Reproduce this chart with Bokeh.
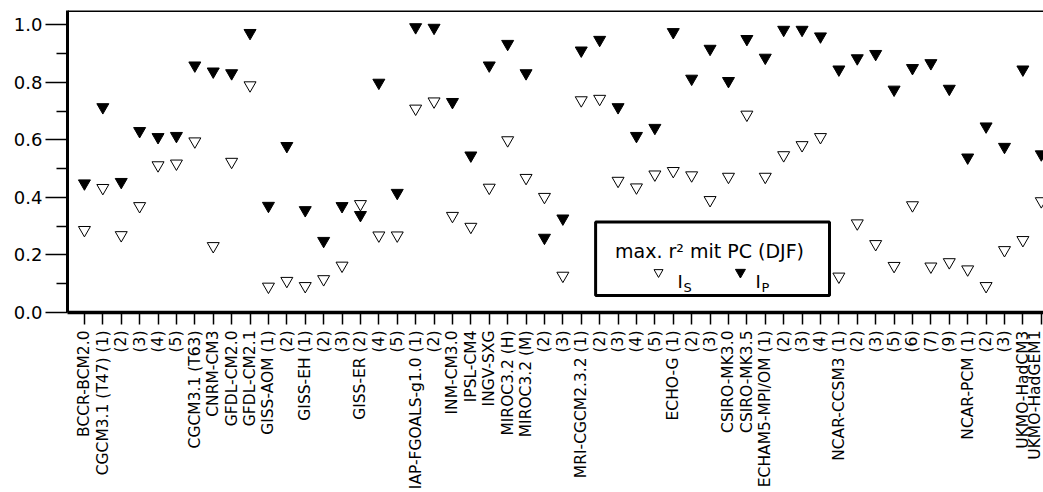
import numpy as np
from bokeh.plotting import figure
from bokeh.models import (FixedTicker, Range1d, Span, BoxAnnotation, Label,
                          ColumnDataSource, PrintfTickFormatter)
from bokeh.embed import file_html
from bokeh.resources import INLINE

# Model runs along the x axis
models = [
    "BCCR-BCM2.0", "CGCM3.1 (T47) (1)", "(2)", "(3)", "(4)", "(5)",
    "CGCM3.1 (T63)", "CNRM-CM3", "GFDL-CM2.0", "GFDL-CM2.1",
    "GISS-AOM (1)", "(2)", "GISS-EH (1)", "(2)", "(3)",
    "GISS-ER (2)", "(4)", "(5)", "IAP-FGOALS-g1.0 (1)", "(2)",
    "INM-CM3.0", "IPSL-CM4", "INGV-SXG", "MIROC3.2 (H)", "MIROC3.2 (M)",
    "(2)", "(3)", "MRI-CGCM2.3.2 (1)", "(2)", "(3)", "(4)", "(5)",
    "ECHO-G (1)", "(2)", "(3)", "CSIRO-MK3.0", "CSIRO-MK3.5",
    "ECHAM5-MPI/OM (1)", "(2)", "(3)", "(4)",
    "NCAR-CCSM3 (1)", "(2)", "(3)", "(5)", "(6)", "(7)", "(9)",
    "NCAR-PCM (1)", "(2)", "(3)", "UKMO-HadCM3", "UKMO-HadGEM1",
]

# max. r^2 with PC (DJF), index I_S
i_s = [
    0.287, 0.433, 0.269, 0.370, 0.512, 0.518, 0.595, 0.231, 0.524, 0.790,
    0.090, 0.110, 0.092, 0.116, 0.163, 0.377, 0.268, 0.268, 0.709, 0.734,
    0.336, 0.298, 0.434, 0.599, 0.468, 0.402, 0.128, 0.738, 0.743, 0.458,
    0.435, 0.480, 0.492, 0.477, 0.391, 0.472, 0.688, 0.472, 0.547, 0.582,
    0.610, 0.125, 0.310, 0.238, 0.162, 0.373, 0.160, 0.175, 0.150, 0.092,
    0.217, 0.252, 0.387,
]

# max. r^2 with PC (DJF), index I_P
i_p = [
    0.449, 0.714, 0.454, 0.631, 0.610, 0.614, 0.859, 0.838, 0.832, 0.972,
    0.371, 0.579, 0.356, 0.249, 0.370, 0.339, 0.799, 0.416, 0.992, 0.990,
    0.732, 0.546, 0.859, 0.934, 0.832, 0.260, 0.327, 0.911, 0.948, 0.714,
    0.614, 0.642, 0.975, 0.813, 0.917, 0.805, 0.951, 0.886, 0.983, 0.983,
    0.960, 0.845, 0.884, 0.899, 0.775, 0.850, 0.867, 0.778, 0.539, 0.647,
    0.576, 0.845, 0.550,
]

y_ticks = [0.0, 0.2, 0.4, 0.6, 0.8, 1.0]
y_minor_ticks = [0.1, 0.3, 0.5, 0.7, 0.9]

FONT = "DejaVu Sans"

xs = list(range(len(models)))
src = ColumnDataSource(dict(x=xs, i_s=i_s, i_p=i_p))

p = figure(
    width=1043, height=492,
    output_backend="svg", toolbar_location=None,
    x_range=Range1d(-0.92, 52.12), y_range=Range1d(0.0, 1.05),
    min_border_left=67, min_border_right=0,
    min_border_top=10, min_border_bottom=179,
    outline_line_color=None,
    background_fill_color="white", border_fill_color="white",
)
p.grid.visible = False

# x axis: one tick per model run, labels read bottom-to-top
xa = p.xaxis[0]
xa.ticker = FixedTicker(ticks=xs, minor_ticks=[])
xa.major_label_overrides = {i: m for i, m in enumerate(models)}
xa.major_label_orientation = np.pi / 2
xa.major_label_text_font = FONT
xa.major_label_text_font_size = "15.5px"
xa.major_label_text_color = "black"
xa.major_label_standoff = 6
xa.axis_line_width = 3.5
xa.axis_line_color = "black"
xa.major_tick_in = 0
xa.major_tick_out = 12
xa.major_tick_line_width = 1.5
xa.major_tick_line_color = "black"
xa.minor_tick_out = 0
xa.minor_tick_in = 0

# y axis
ya = p.yaxis[0]
ya.ticker = FixedTicker(ticks=y_ticks, minor_ticks=y_minor_ticks)
ya.formatter = PrintfTickFormatter(format="%.1f")
ya.major_label_text_font = FONT
ya.major_label_text_font_size = "18px"
ya.major_label_text_color = "black"
ya.major_label_standoff = 3
ya.axis_line_width = 3
ya.axis_line_color = "black"
ya.major_tick_in = 0
ya.major_tick_out = 22
ya.minor_tick_in = 0
ya.minor_tick_out = 11
ya.major_tick_line_width = 1.5
ya.minor_tick_line_width = 1.5
ya.major_tick_line_color = "black"
ya.minor_tick_line_color = "black"

# top frame line
p.add_layout(Span(location=1.05, dimension="width",
                  line_color="black", line_width=3))

# data markers
p.scatter("x", "i_s", source=src, marker="inverted_triangle", size=12,
          fill_color="white", line_color="black", line_width=1)
p.scatter("x", "i_p", source=src, marker="inverted_triangle", size=12,
          fill_color="black", line_color="black", line_width=1)

# legend box
p.add_layout(BoxAnnotation(left=27.78, right=40.49, top=0.315, bottom=0.059,
                           fill_color="white", fill_alpha=1.0,
                           line_color="black", line_width=3, line_alpha=1.0))
p.add_layout(Label(x=33.97, y=0.215, text="max. r\u00b2 mit PC (DJF)",
                   text_font=FONT, text_font_size="19px", text_color="black",
                   text_align="center", text_baseline="alphabetic"))

leg_open = p.scatter([31.2], [0.140], marker="inverted_triangle", size=9,
                     fill_color="white", line_color="black", line_width=1)
leg_open.level = "overlay"
leg_fill = p.scatter([35.65], [0.140], marker="inverted_triangle", size=10,
                     fill_color="black", line_color="black", line_width=1)
leg_fill.level = "overlay"

for xi, sub in ((32.23, "S"), (36.47, "P")):
    p.add_layout(Label(x=xi, y=0.108, text="I", text_font=FONT,
                       text_font_size="18px", text_color="black",
                       text_align="left", text_baseline="alphabetic"))
    p.add_layout(Label(x=xi + 0.32, y=0.088, text=sub, text_font=FONT,
                       text_font_size="13px", text_color="black",
                       text_align="left", text_baseline="alphabetic"))

open("out.html", "w").write(file_html(p, INLINE))
